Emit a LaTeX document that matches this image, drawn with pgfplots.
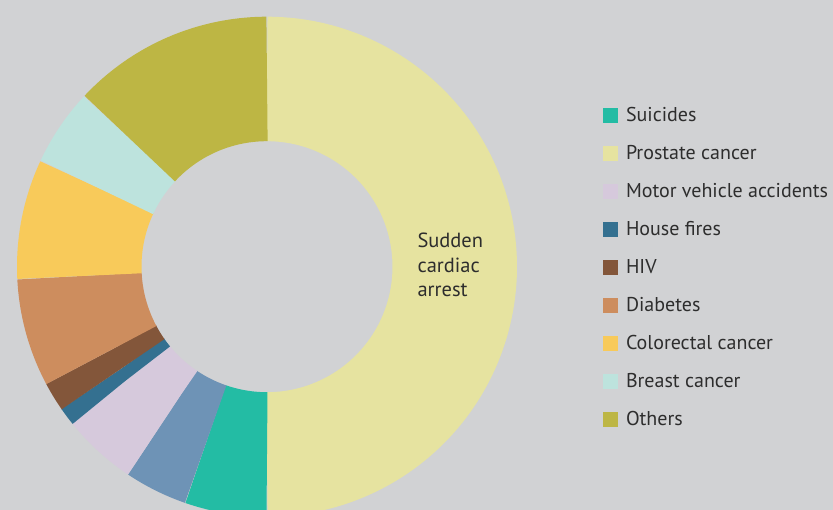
\documentclass[border=0pt]{standalone}
\usepackage{pgfplots}
\pgfplotsset{compat=1.18}
\usepackage{fontspec}
\setmainfont{PT Sans}
\definecolor{bgcol}{RGB}{209,210,212}
\definecolor{txt}{RGB}{45,45,45}
\definecolor{cSca}{RGB}{230,227,160}
\definecolor{cOth}{RGB}{189,182,68}
\definecolor{cBre}{RGB}{189,227,221}
\definecolor{cCol}{RGB}{248,202,90}
\definecolor{cDia}{RGB}{205,141,94}
\definecolor{cHiv}{RGB}{131,86,58}
\definecolor{cHou}{RGB}{52,112,144}
\definecolor{cMot}{RGB}{214,201,220}
\definecolor{cPro}{RGB}{110,147,182}
\definecolor{cSui}{RGB}{35,188,164}
\begin{document}
\begin{tikzpicture}
\path[use as bounding box, fill=bgcol] (0,0) rectangle (833pt,510pt);
\begin{axis}[
  at={(0,0)}, anchor=south west,
  scale only axis, width=833pt, height=510pt,
  xmin=-267, xmax=566, ymin=-243.3, ymax=266.7,
  hide axis, clip=true,
  legend style={at={(axis cs:335.3,160)}, anchor=north west, draw=none, fill=none,
    inner sep=0pt, row sep=18pt, font=\fontsize{20}{24}\selectfont, text=txt,
    nodes={inner sep=0pt, anchor=base west, text height=15pt, text depth=5pt},
    /tikz/every odd column/.append style={column sep=8.5pt}},
  legend cell align=left,
  legend image code/.code={\fill[#1] (0pt,-1.2pt) rectangle (15pt,13.8pt);},
  seg/.style={data cs=polar, samples=90, line cap=butt, line join=round, line width=124.5pt, forget plot}
]
% segments (percent of the ring): 50, 5.3, 4.1, 4.8, 1.1, 1.9, 7.0, 7.75, 5.0, 13.05
\addplot[seg, draw=cSca, domain=-90:90, samples=180] {187.75};
\addplot[seg, draw=cSui, domain=-109.08:-90] {187.75};
\addplot[seg, draw=cPro, domain=-123.84:-109.08] {187.75};
\addplot[seg, draw=cMot, domain=-141.12:-123.84] {187.75};
\addplot[seg, draw=cHou, domain=-145.08:-141.12] {187.75};
\addplot[seg, draw=cHiv, domain=-151.92:-145.08] {187.75};
\addplot[seg, draw=cDia, domain=-177.12:-151.92] {187.75};
\addplot[seg, draw=cCol, domain=-205.02:-177.12] {187.75};
\addplot[seg, draw=cBre, domain=-223.02:-205.02] {187.75};
\addplot[seg, draw=cOth, domain=-270:-223.02] {187.75};
\addlegendimage{fill=cSui, draw=none}\addlegendentry{Suicides}
\addlegendimage{fill=cSca, draw=none}\addlegendentry{Prostate cancer}
\addlegendimage{fill=cMot, draw=none}\addlegendentry{Motor vehicle accidents}
\addlegendimage{fill=cHou, draw=none}\addlegendentry{House fires}
\addlegendimage{fill=cHiv, draw=none}\addlegendentry{HIV}
\addlegendimage{fill=cDia, draw=none}\addlegendentry{Diabetes}
\addlegendimage{fill=cCol, draw=none}\addlegendentry{Colorectal cancer}
\addlegendimage{fill=cBre, draw=none}\addlegendentry{Breast cancer}
\addlegendimage{fill=cOth, draw=none}\addlegendentry{Others}
\node[anchor=base west, text=txt, font=\fontsize{20.5}{24}\selectfont, inner sep=0pt] at (axis cs:150.3,18.7) {Sudden};
\node[anchor=base west, text=txt, font=\fontsize{20.5}{24}\selectfont, inner sep=0pt] at (axis cs:150.3,-5.6) {cardiac};
\node[anchor=base west, text=txt, font=\fontsize{20.5}{24}\selectfont, inner sep=0pt] at (axis cs:150.3,-29.6) {arrest};
\end{axis}
\end{tikzpicture}
\end{document}
